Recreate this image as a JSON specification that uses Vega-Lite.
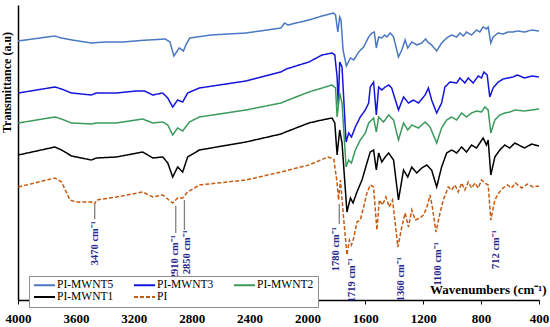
{
"$schema": "https://vega.github.io/schema/vega-lite/v6.json",
"width": 521, "height": 295,
"autosize": {"type": "none"},
"padding": {"left": 18, "top": 5, "right": 11, "bottom": 27},
"config": {"view": {"stroke": null}, "font": "Liberation Serif"},
"datasets": {
"spectra": [
{"series":"PI-MWNT5","wn":4000,"t":259},{"series":"PI-MWNT5","wn":3747,"t":264},{"series":"PI-MWNT5","wn":3700,"t":262},{"series":"PI-MWNT5","wn":3626,"t":260},{"series":"PI-MWNT5","wn":3493,"t":257},{"series":"PI-MWNT5","wn":3400,"t":258},{"series":"PI-MWNT5","wn":3277,"t":258},{"series":"PI-MWNT5","wn":3153,"t":259.5},{"series":"PI-MWNT5","wn":2983,"t":261},{"series":"PI-MWNT5","wn":2950,"t":258},{"series":"PI-MWNT5","wn":2923,"t":244},{"series":"PI-MWNT5","wn":2886,"t":252},{"series":"PI-MWNT5","wn":2857,"t":249},{"series":"PI-MWNT5","wn":2840,"t":255},{"series":"PI-MWNT5","wn":2813,"t":262},{"series":"PI-MWNT5","wn":2667,"t":265},{"series":"PI-MWNT5","wn":2425,"t":267},{"series":"PI-MWNT5","wn":2183,"t":272},{"series":"PI-MWNT5","wn":2158,"t":277},{"series":"PI-MWNT5","wn":2135,"t":275},{"series":"PI-MWNT5","wn":1990,"t":280},{"series":"PI-MWNT5","wn":1899,"t":284},{"series":"PI-MWNT5","wn":1818,"t":287},{"series":"PI-MWNT5","wn":1806,"t":285},{"series":"PI-MWNT5","wn":1790,"t":268},{"series":"PI-MWNT5","wn":1777,"t":283},{"series":"PI-MWNT5","wn":1768,"t":280},{"series":"PI-MWNT5","wn":1754,"t":250},{"series":"PI-MWNT5","wn":1731,"t":234},{"series":"PI-MWNT5","wn":1703,"t":242},{"series":"PI-MWNT5","wn":1680,"t":240},{"series":"PI-MWNT5","wn":1646,"t":248},{"series":"PI-MWNT5","wn":1612,"t":253},{"series":"PI-MWNT5","wn":1577,"t":263},{"series":"PI-MWNT5","wn":1554,"t":267},{"series":"PI-MWNT5","wn":1538,"t":268},{"series":"PI-MWNT5","wn":1524,"t":252},{"series":"PI-MWNT5","wn":1508,"t":263},{"series":"PI-MWNT5","wn":1486,"t":262},{"series":"PI-MWNT5","wn":1467,"t":265},{"series":"PI-MWNT5","wn":1451,"t":263},{"series":"PI-MWNT5","wn":1428,"t":267},{"series":"PI-MWNT5","wn":1405,"t":263},{"series":"PI-MWNT5","wn":1371,"t":243},{"series":"PI-MWNT5","wn":1348,"t":250},{"series":"PI-MWNT5","wn":1325,"t":260},{"series":"PI-MWNT5","wn":1307,"t":252},{"series":"PI-MWNT5","wn":1279,"t":258},{"series":"PI-MWNT5","wn":1245,"t":255},{"series":"PI-MWNT5","wn":1210,"t":257},{"series":"PI-MWNT5","wn":1183,"t":261},{"series":"PI-MWNT5","wn":1169,"t":258},{"series":"PI-MWNT5","wn":1142,"t":255},{"series":"PI-MWNT5","wn":1107,"t":249},{"series":"PI-MWNT5","wn":1073,"t":257},{"series":"PI-MWNT5","wn":1038,"t":262},{"series":"PI-MWNT5","wn":1004,"t":265},{"series":"PI-MWNT5","wn":969,"t":263},{"series":"PI-MWNT5","wn":946,"t":267},{"series":"PI-MWNT5","wn":923,"t":264},{"series":"PI-MWNT5","wn":901,"t":268},{"series":"PI-MWNT5","wn":866,"t":265},{"series":"PI-MWNT5","wn":832,"t":270},{"series":"PI-MWNT5","wn":809,"t":268},{"series":"PI-MWNT5","wn":786,"t":273},{"series":"PI-MWNT5","wn":763,"t":271},{"series":"PI-MWNT5","wn":751,"t":273},{"series":"PI-MWNT5","wn":733,"t":257},{"series":"PI-MWNT5","wn":717,"t":263},{"series":"PI-MWNT5","wn":682,"t":267},{"series":"PI-MWNT5","wn":648,"t":266},{"series":"PI-MWNT5","wn":614,"t":268},{"series":"PI-MWNT5","wn":579,"t":268},{"series":"PI-MWNT5","wn":550,"t":269},{"series":"PI-MWNT5","wn":500,"t":268},{"series":"PI-MWNT5","wn":450,"t":270},{"series":"PI-MWNT5","wn":400,"t":269},

{"series":"PI-MWNT3","wn":3998,"t":207},{"series":"PI-MWNT3","wn":3745,"t":213},{"series":"PI-MWNT3","wn":3699,"t":211},{"series":"PI-MWNT3","wn":3630,"t":207},{"series":"PI-MWNT3","wn":3493,"t":205},{"series":"PI-MWNT3","wn":3458,"t":207},{"series":"PI-MWNT3","wn":3321,"t":207},{"series":"PI-MWNT3","wn":3183,"t":209},{"series":"PI-MWNT3","wn":3126,"t":209},{"series":"PI-MWNT3","wn":3069,"t":205},{"series":"PI-MWNT3","wn":3000,"t":207},{"series":"PI-MWNT3","wn":2965,"t":202},{"series":"PI-MWNT3","wn":2931,"t":193},{"series":"PI-MWNT3","wn":2897,"t":200},{"series":"PI-MWNT3","wn":2862,"t":198},{"series":"PI-MWNT3","wn":2828,"t":207},{"series":"PI-MWNT3","wn":2747,"t":212},{"series":"PI-MWNT3","wn":2425,"t":219},{"series":"PI-MWNT3","wn":2183,"t":228},{"series":"PI-MWNT3","wn":2146,"t":231},{"series":"PI-MWNT3","wn":1990,"t":238},{"series":"PI-MWNT3","wn":1899,"t":245},{"series":"PI-MWNT3","wn":1830,"t":247},{"series":"PI-MWNT3","wn":1811,"t":245},{"series":"PI-MWNT3","wn":1795,"t":223},{"series":"PI-MWNT3","wn":1787,"t":195},{"series":"PI-MWNT3","wn":1777,"t":238},{"series":"PI-MWNT3","wn":1761,"t":233},{"series":"PI-MWNT3","wn":1733,"t":158},{"series":"PI-MWNT3","wn":1715,"t":167},{"series":"PI-MWNT3","wn":1696,"t":163},{"series":"PI-MWNT3","wn":1669,"t":173},{"series":"PI-MWNT3","wn":1635,"t":183},{"series":"PI-MWNT3","wn":1600,"t":190},{"series":"PI-MWNT3","wn":1577,"t":197},{"series":"PI-MWNT3","wn":1566,"t":213},{"series":"PI-MWNT3","wn":1543,"t":218},{"series":"PI-MWNT3","wn":1524,"t":185},{"series":"PI-MWNT3","wn":1508,"t":213},{"series":"PI-MWNT3","wn":1486,"t":210},{"series":"PI-MWNT3","wn":1463,"t":213},{"series":"PI-MWNT3","wn":1439,"t":215},{"series":"PI-MWNT3","wn":1418,"t":212},{"series":"PI-MWNT3","wn":1371,"t":190},{"series":"PI-MWNT3","wn":1336,"t":203},{"series":"PI-MWNT3","wn":1302,"t":197},{"series":"PI-MWNT3","wn":1267,"t":200},{"series":"PI-MWNT3","wn":1233,"t":197},{"series":"PI-MWNT3","wn":1187,"t":205},{"series":"PI-MWNT3","wn":1164,"t":212},{"series":"PI-MWNT3","wn":1142,"t":200},{"series":"PI-MWNT3","wn":1107,"t":187},{"series":"PI-MWNT3","wn":1073,"t":197},{"series":"PI-MWNT3","wn":1050,"t":213},{"series":"PI-MWNT3","wn":1015,"t":218},{"series":"PI-MWNT3","wn":969,"t":217},{"series":"PI-MWNT3","wn":946,"t":222},{"series":"PI-MWNT3","wn":912,"t":217},{"series":"PI-MWNT3","wn":889,"t":222},{"series":"PI-MWNT3","wn":855,"t":217},{"series":"PI-MWNT3","wn":820,"t":224},{"series":"PI-MWNT3","wn":797,"t":222},{"series":"PI-MWNT3","wn":781,"t":228},{"series":"PI-MWNT3","wn":758,"t":225},{"series":"PI-MWNT3","wn":740,"t":203},{"series":"PI-MWNT3","wn":717,"t":212},{"series":"PI-MWNT3","wn":682,"t":218},{"series":"PI-MWNT3","wn":648,"t":221},{"series":"PI-MWNT3","wn":614,"t":222},{"series":"PI-MWNT3","wn":579,"t":223},{"series":"PI-MWNT3","wn":550,"t":225},{"series":"PI-MWNT3","wn":500,"t":222},{"series":"PI-MWNT3","wn":450,"t":224},{"series":"PI-MWNT3","wn":400,"t":223},

{"series":"PI-MWNT2","wn":3998,"t":177},{"series":"PI-MWNT2","wn":3745,"t":183},{"series":"PI-MWNT2","wn":3699,"t":181},{"series":"PI-MWNT2","wn":3630,"t":177},{"series":"PI-MWNT2","wn":3493,"t":176},{"series":"PI-MWNT2","wn":3458,"t":177},{"series":"PI-MWNT2","wn":3321,"t":177},{"series":"PI-MWNT2","wn":3138,"t":181},{"series":"PI-MWNT2","wn":3069,"t":177},{"series":"PI-MWNT2","wn":3000,"t":178},{"series":"PI-MWNT2","wn":2965,"t":175},{"series":"PI-MWNT2","wn":2931,"t":165},{"series":"PI-MWNT2","wn":2897,"t":172},{"series":"PI-MWNT2","wn":2862,"t":169},{"series":"PI-MWNT2","wn":2816,"t":178},{"series":"PI-MWNT2","wn":2747,"t":183},{"series":"PI-MWNT2","wn":2425,"t":190},{"series":"PI-MWNT2","wn":2183,"t":197},{"series":"PI-MWNT2","wn":2150,"t":199},{"series":"PI-MWNT2","wn":1990,"t":208},{"series":"PI-MWNT2","wn":1830,"t":215},{"series":"PI-MWNT2","wn":1806,"t":212},{"series":"PI-MWNT2","wn":1795,"t":183},{"series":"PI-MWNT2","wn":1777,"t":207},{"series":"PI-MWNT2","wn":1761,"t":197},{"series":"PI-MWNT2","wn":1733,"t":133},{"series":"PI-MWNT2","wn":1715,"t":140},{"series":"PI-MWNT2","wn":1696,"t":137},{"series":"PI-MWNT2","wn":1669,"t":150},{"series":"PI-MWNT2","wn":1635,"t":160},{"series":"PI-MWNT2","wn":1600,"t":167},{"series":"PI-MWNT2","wn":1577,"t":177},{"series":"PI-MWNT2","wn":1543,"t":182},{"series":"PI-MWNT2","wn":1524,"t":168},{"series":"PI-MWNT2","wn":1508,"t":183},{"series":"PI-MWNT2","wn":1474,"t":178},{"series":"PI-MWNT2","wn":1439,"t":185},{"series":"PI-MWNT2","wn":1405,"t":180},{"series":"PI-MWNT2","wn":1371,"t":160},{"series":"PI-MWNT2","wn":1336,"t":177},{"series":"PI-MWNT2","wn":1307,"t":170},{"series":"PI-MWNT2","wn":1279,"t":175},{"series":"PI-MWNT2","wn":1233,"t":172},{"series":"PI-MWNT2","wn":1187,"t":178},{"series":"PI-MWNT2","wn":1153,"t":173},{"series":"PI-MWNT2","wn":1107,"t":157},{"series":"PI-MWNT2","wn":1073,"t":172},{"series":"PI-MWNT2","wn":1038,"t":180},{"series":"PI-MWNT2","wn":1004,"t":183},{"series":"PI-MWNT2","wn":969,"t":180},{"series":"PI-MWNT2","wn":935,"t":187},{"series":"PI-MWNT2","wn":901,"t":183},{"series":"PI-MWNT2","wn":866,"t":187},{"series":"PI-MWNT2","wn":832,"t":189},{"series":"PI-MWNT2","wn":797,"t":188},{"series":"PI-MWNT2","wn":774,"t":193},{"series":"PI-MWNT2","wn":751,"t":190},{"series":"PI-MWNT2","wn":733,"t":167},{"series":"PI-MWNT2","wn":705,"t":180},{"series":"PI-MWNT2","wn":671,"t":185},{"series":"PI-MWNT2","wn":636,"t":187},{"series":"PI-MWNT2","wn":602,"t":188},{"series":"PI-MWNT2","wn":567,"t":190},{"series":"PI-MWNT2","wn":500,"t":189},{"series":"PI-MWNT2","wn":450,"t":190},{"series":"PI-MWNT2","wn":400,"t":191},

{"series":"PI-MWNT1","wn":3998,"t":145},{"series":"PI-MWNT1","wn":3745,"t":153},{"series":"PI-MWNT1","wn":3699,"t":150},{"series":"PI-MWNT1","wn":3630,"t":144},{"series":"PI-MWNT1","wn":3493,"t":140},{"series":"PI-MWNT1","wn":3458,"t":142},{"series":"PI-MWNT1","wn":3321,"t":143},{"series":"PI-MWNT1","wn":3138,"t":148},{"series":"PI-MWNT1","wn":3069,"t":142},{"series":"PI-MWNT1","wn":3000,"t":143},{"series":"PI-MWNT1","wn":2965,"t":137},{"series":"PI-MWNT1","wn":2931,"t":123},{"series":"PI-MWNT1","wn":2897,"t":133},{"series":"PI-MWNT1","wn":2862,"t":128},{"series":"PI-MWNT1","wn":2828,"t":143},{"series":"PI-MWNT1","wn":2747,"t":150},{"series":"PI-MWNT1","wn":2425,"t":158},{"series":"PI-MWNT1","wn":2183,"t":166},{"series":"PI-MWNT1","wn":2150,"t":168},{"series":"PI-MWNT1","wn":1990,"t":177},{"series":"PI-MWNT1","wn":1899,"t":180},{"series":"PI-MWNT1","wn":1830,"t":182},{"series":"PI-MWNT1","wn":1811,"t":177},{"series":"PI-MWNT1","wn":1795,"t":145},{"series":"PI-MWNT1","wn":1777,"t":170},{"series":"PI-MWNT1","wn":1761,"t":157},{"series":"PI-MWNT1","wn":1727,"t":88},{"series":"PI-MWNT1","wn":1703,"t":102},{"series":"PI-MWNT1","wn":1685,"t":97},{"series":"PI-MWNT1","wn":1658,"t":108},{"series":"PI-MWNT1","wn":1623,"t":120},{"series":"PI-MWNT1","wn":1589,"t":137},{"series":"PI-MWNT1","wn":1566,"t":148},{"series":"PI-MWNT1","wn":1543,"t":150},{"series":"PI-MWNT1","wn":1524,"t":130},{"series":"PI-MWNT1","wn":1508,"t":147},{"series":"PI-MWNT1","wn":1486,"t":138},{"series":"PI-MWNT1","wn":1463,"t":143},{"series":"PI-MWNT1","wn":1439,"t":147},{"series":"PI-MWNT1","wn":1405,"t":140},{"series":"PI-MWNT1","wn":1371,"t":100},{"series":"PI-MWNT1","wn":1336,"t":130},{"series":"PI-MWNT1","wn":1307,"t":123},{"series":"PI-MWNT1","wn":1279,"t":133},{"series":"PI-MWNT1","wn":1245,"t":127},{"series":"PI-MWNT1","wn":1210,"t":132},{"series":"PI-MWNT1","wn":1176,"t":135},{"series":"PI-MWNT1","wn":1142,"t":130},{"series":"PI-MWNT1","wn":1107,"t":113},{"series":"PI-MWNT1","wn":1073,"t":133},{"series":"PI-MWNT1","wn":1038,"t":147},{"series":"PI-MWNT1","wn":1004,"t":150},{"series":"PI-MWNT1","wn":969,"t":147},{"series":"PI-MWNT1","wn":935,"t":153},{"series":"PI-MWNT1","wn":901,"t":148},{"series":"PI-MWNT1","wn":866,"t":155},{"series":"PI-MWNT1","wn":832,"t":152},{"series":"PI-MWNT1","wn":809,"t":157},{"series":"PI-MWNT1","wn":786,"t":162},{"series":"PI-MWNT1","wn":763,"t":155},{"series":"PI-MWNT1","wn":751,"t":160},{"series":"PI-MWNT1","wn":733,"t":125},{"series":"PI-MWNT1","wn":705,"t":143},{"series":"PI-MWNT1","wn":671,"t":150},{"series":"PI-MWNT1","wn":636,"t":155},{"series":"PI-MWNT1","wn":602,"t":152},{"series":"PI-MWNT1","wn":567,"t":157},{"series":"PI-MWNT1","wn":500,"t":152},{"series":"PI-MWNT1","wn":450,"t":156},{"series":"PI-MWNT1","wn":400,"t":154},

{"series":"PI","wn":3998,"t":113},{"series":"PI","wn":3745,"t":122},{"series":"PI","wn":3699,"t":118},{"series":"PI","wn":3641,"t":100},{"series":"PI","wn":3596,"t":98},{"series":"PI","wn":3493,"t":98},{"series":"PI","wn":3470,"t":96},{"series":"PI","wn":3458,"t":100},{"series":"PI","wn":3321,"t":103},{"series":"PI","wn":3138,"t":108},{"series":"PI","wn":3069,"t":103},{"series":"PI","wn":3000,"t":105},{"series":"PI","wn":2931,"t":97},{"series":"PI","wn":2897,"t":102},{"series":"PI","wn":2862,"t":102},{"series":"PI","wn":2828,"t":108},{"series":"PI","wn":2747,"t":115},{"series":"PI","wn":2425,"t":120},{"series":"PI","wn":2183,"t":128},{"series":"PI","wn":1990,"t":135},{"series":"PI","wn":1858,"t":143},{"series":"PI","wn":1818,"t":141},{"series":"PI","wn":1795,"t":117},{"series":"PI","wn":1785,"t":100},{"series":"PI","wn":1772,"t":120},{"series":"PI","wn":1749,"t":80},{"series":"PI","wn":1727,"t":45},{"series":"PI","wn":1710,"t":60},{"series":"PI","wn":1696,"t":55},{"series":"PI","wn":1680,"t":62},{"series":"PI","wn":1658,"t":78},{"series":"PI","wn":1635,"t":80},{"series":"PI","wn":1612,"t":93},{"series":"PI","wn":1589,"t":107},{"series":"PI","wn":1566,"t":115},{"series":"PI","wn":1543,"t":113},{"series":"PI","wn":1520,"t":70},{"series":"PI","wn":1503,"t":100},{"series":"PI","wn":1481,"t":95},{"series":"PI","wn":1458,"t":103},{"series":"PI","wn":1435,"t":93},{"series":"PI","wn":1412,"t":100},{"series":"PI","wn":1375,"t":53},{"series":"PI","wn":1348,"t":73},{"series":"PI","wn":1325,"t":87},{"series":"PI","wn":1302,"t":73},{"series":"PI","wn":1279,"t":90},{"series":"PI","wn":1256,"t":80},{"series":"PI","wn":1222,"t":82},{"series":"PI","wn":1199,"t":85},{"series":"PI","wn":1176,"t":92},{"series":"PI","wn":1153,"t":105},{"series":"PI","wn":1137,"t":93},{"series":"PI","wn":1112,"t":68},{"series":"PI","wn":1084,"t":87},{"series":"PI","wn":1061,"t":100},{"series":"PI","wn":1027,"t":113},{"series":"PI","wn":1004,"t":110},{"series":"PI","wn":981,"t":115},{"series":"PI","wn":958,"t":108},{"series":"PI","wn":935,"t":117},{"series":"PI","wn":912,"t":110},{"series":"PI","wn":889,"t":118},{"series":"PI","wn":866,"t":112},{"series":"PI","wn":843,"t":117},{"series":"PI","wn":820,"t":112},{"series":"PI","wn":797,"t":120},{"series":"PI","wn":774,"t":117},{"series":"PI","wn":751,"t":115},{"series":"PI","wn":733,"t":80},{"series":"PI","wn":705,"t":100},{"series":"PI","wn":678,"t":107},{"series":"PI","wn":648,"t":112},{"series":"PI","wn":618,"t":115},{"series":"PI","wn":590,"t":112},{"series":"PI","wn":563,"t":117},{"series":"PI","wn":520,"t":112},{"series":"PI","wn":480,"t":116},{"series":"PI","wn":440,"t":113},{"series":"PI","wn":400,"t":114}
],
"markers": [
{"wn":3470,"y0":95,"y1":81},
{"wn":2910,"y0":94,"y1":67},
{"wn":2850,"y0":100,"y1":70},
{"wn":1780,"y0":96,"y1":76}
],
"labels": [
{"label":"3470 cm⁻¹","wn":3470,"t":79},
{"label":"2910 cm⁻¹","wn":2915,"t":65},
{"label":"2850 cm⁻¹","wn":2830,"t":70},
{"label":"1780 cm⁻¹","wn":1802,"t":73},
{"label":"1719 cm⁻¹","wn":1690,"t":42},
{"label":"1360 cm⁻¹","wn":1357,"t":43},
{"label":"1100 cm⁻¹","wn":1095,"t":58},
{"label":"712 cm⁻¹","wn":700,"t":70}
]
},
"layer": [
{
"data": {"name": "spectra"},
"mark": {"type": "line", "strokeWidth": 1.5},
"encoding": {
"x": {"field": "wn", "type": "quantitative", "scale": {"domain": [4000, 400], "zero": false, "nice": false},
 "axis": {"values": [4000,3600,3200,2800,2400,2000,1600,1200,800,400], "format": "d", "title": "Wavenumbers (cm⁻¹)", "titleX": 528, "titleY": -11, "titleAlign": "right", "titleBaseline": "middle", "titleFont": "Liberation Serif", "titleFontSize": 13, "titleFontWeight": "bold", "titleColor": "black", "labelFont": "Liberation Serif", "labelFontSize": 13, "labelFontWeight": "bold", "labelColor": "black", "labelPadding": 8, "labelFlush": false, "labelOverlap": false, "tickColor": "black", "tickSize": 4, "domainColor": "black", "domainWidth": 1.5, "grid": false}},
"y": {"field": "t", "type": "quantitative", "scale": {"domain": [0, 295], "zero": false, "nice": false},
 "axis": {"title": "Transmittance (a.u)", "labels": false, "ticks": false, "grid": false, "domainColor": "black", "domainWidth": 1.5, "titleFont": "Liberation Serif", "titleFontSize": 12, "titleFontWeight": "bold", "titleColor": "black", "titleAngle": 270, "titleX": -12, "titleY": 77, "titleAlign": "center", "titleBaseline": "middle"}},
"color": {"field": "series", "type": "nominal",
 "scale": {"domain": ["PI-MWNT5","PI-MWNT3","PI-MWNT2","PI-MWNT1","PI"], "range": ["#4a78c2","#1414dc","#3a9a5c","#000000","#c55a11"]},
 "legend": {"orient": "none", "legendX": 11, "legendY": 271, "columns": 3, "direction": "horizontal", "title": null, "symbolType": "stroke", "symbolSize": 441, "symbolStrokeWidth": 2, "clipHeight": 10, "labelFont": "Liberation Serif", "labelFontSize": 11.5, "labelColor": "black", "labelOffset": 1, "columnPadding": 19, "rowPadding": 0, "padding": 4, "strokeColor": "#8c8c8c", "fillColor": "white"}},
"strokeDash": {"field": "series", "type": "nominal",
 "scale": {"domain": ["PI-MWNT5","PI-MWNT3","PI-MWNT2","PI-MWNT1","PI"], "range": [[1,0],[1,0],[1,0],[1,0],[4,2]]},
 "legend": {"orient": "none", "legendX": 11, "legendY": 271, "columns": 3, "direction": "horizontal", "title": null, "symbolType": "stroke", "symbolSize": 441, "symbolStrokeWidth": 2, "clipHeight": 10, "labelFont": "Liberation Serif", "labelFontSize": 11.5, "labelColor": "black", "labelOffset": 1, "columnPadding": 19, "rowPadding": 0, "padding": 4, "strokeColor": "#8c8c8c", "fillColor": "white"}}
}
},
{
"data": {"name": "markers"},
"mark": {"type": "rule", "color": "#808080", "strokeWidth": 1.3},
"encoding": {
"x": {"field": "wn", "type": "quantitative"},
"y": {"field": "y0", "type": "quantitative"},
"y2": {"field": "y1"}
}
},
{
"data": {"name": "labels"},
"mark": {"type": "text", "angle": 270, "align": "right", "baseline": "middle", "font": "Liberation Serif", "fontWeight": "bold", "fontSize": 10.5, "color": "#26268c"},
"encoding": {
"x": {"field": "wn", "type": "quantitative"},
"y": {"field": "t", "type": "quantitative"},
"text": {"field": "label"}
}
}
]
}
